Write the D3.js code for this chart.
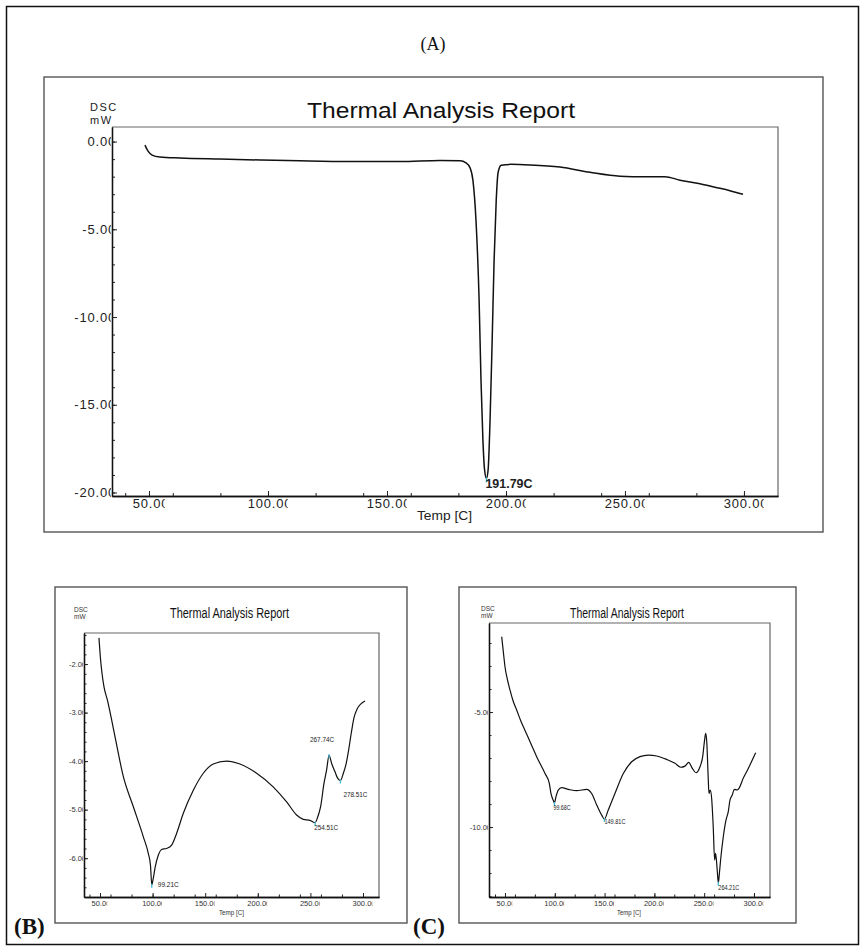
<!DOCTYPE html>
<html><head><meta charset="utf-8">
<script src="https://cdn.jsdelivr.net/npm/d3@7"></script>
<style>body{margin:0;background:#fff} svg{display:block}</style>
</head><body>
<svg id="c" width="865" height="951"></svg>
<script>
// ---------------- DATA ----------------
const xMajorTicks = [50, 100, 150, 200, 250, 300];
const xMinorTicks = [40, 60, 80, 100, 120, 140, 160, 180, 200, 220, 240, 260, 280, 300];
const xTickLabels = ["50.00", "100.00", "150.00", "200.00", "250.00", "300.00"];

// Panel A
const tempA = [48.3, 49.6, 51.3, 54.6, 63, 79.8, 96.6, 113.4, 134.5, 155.5, 172.3, 180.7, 183.2, 184.9, 186.1, 187.4, 188.7, 189.5, 190.3, 191.0, 191.79, 192.5, 193.3, 194.2, 195.0, 195.9, 196.7, 198.0, 202.1, 210, 222.7, 235.3, 247.9, 258.4, 266.8, 273.1, 281.5, 287.8, 294.1, 299.6];
const dscA  = [-0.2, -0.55, -0.77, -0.88, -0.94, -1.0, -1.05, -1.1, -1.14, -1.14, -1.08, -1.1, -1.22, -1.5, -2.2, -4.5, -9.0, -13.6, -17.0, -18.7, -19.2, -18.7, -15.9, -11.3, -6.8, -3.35, -1.75, -1.35, -1.3, -1.33, -1.45, -1.75, -1.97, -2.0, -2.0, -2.2, -2.4, -2.6, -2.8, -3.0];
const yMajorA = [0, -5, -10, -15, -20];
const yLabelsA = ["0.00", "-5.00", "-10.00", "-15.00", "-20.00"];
const peakTempA = [191.79];
const peakValA = [-19.2];
const peakLabelA = ["191.79C"];

// Panel B
const tempB = [49.0, 50.3, 51.9, 53.8, 57.0, 60.5, 64.3, 72.2, 81.7, 91.2, 95.9, 98.0, 99.21, 100.6, 102.3, 105.4, 108.6, 113.3, 118.1, 122.8, 129.1, 138.7, 148.2, 157.7, 170.3, 183.0, 198.9, 214.6, 227.4, 236.9, 243.2, 249.6, 254.51, 256.5, 259.7, 262.9, 265.4, 267.74, 270.2, 273.4, 275.6, 278.51, 281.3, 284.0, 286.5, 289.0, 291.5, 294.5, 298.0, 301.9];
const dscB  = [-1.46, -1.85, -2.19, -2.47, -2.74, -3.09, -3.50, -4.32, -4.94, -5.56, -5.90, -6.15, -6.55, -6.42, -6.20, -5.94, -5.82, -5.80, -5.73, -5.49, -5.08, -4.60, -4.25, -4.06, -4.00, -4.06, -4.25, -4.53, -4.84, -5.11, -5.20, -5.22, -5.27, -5.18, -4.94, -4.46, -4.18, -3.88, -4.05, -4.22, -4.34, -4.40, -4.25, -4.05, -3.75, -3.40, -3.10, -2.92, -2.82, -2.76];
const yMajorB = [-2, -3, -4, -5, -6];
const yLabelsB = ["-2.00", "-3.00", "-4.00", "-5.00", "-6.00"];
const peakTempB = [99.21, 254.51, 278.51, 267.74];
const peakValB = [-6.55, -5.27, -4.40, -3.88];
const peakLabelB = ["99.21C", "254.51C", "278.51C", "267.74C"];

// Panel C
const tempC = [46.7, 48.5, 50, 52.5, 55, 58, 61.7, 66, 70.1, 76.8, 81.8, 90.2, 94.5, 96.2, 98.6, 99.68, 101.2, 103.5, 106.9, 113.6, 122, 132, 137, 142.1, 147.1, 149.81, 153.7, 160.4, 168.8, 177.2, 185.5, 193.9, 202.3, 212.3, 220.7, 226.4, 230.7, 234.5, 238.1, 241.8, 245.8, 248.5, 250.2, 251.5, 252.6, 254.0, 254.8, 256.1, 257.5, 259.1, 260.5, 261.5, 263.1, 264.21, 265.3, 266.5, 269.2, 271.9, 274.2, 275.9, 278.2, 280.2, 283.2, 284.9, 289.2, 294.3, 301.7];
const dscC  = [-1.73, -2.45, -3.03, -3.6, -4.04, -4.5, -4.91, -5.4, -5.8, -6.45, -6.94, -7.67, -8.10, -8.55, -8.85, -8.95, -8.68, -8.39, -8.29, -8.36, -8.42, -8.36, -8.54, -9.04, -9.48, -9.65, -9.26, -8.54, -7.67, -7.16, -6.94, -6.87, -6.91, -7.06, -7.23, -7.40, -7.35, -7.19, -7.45, -7.64, -7.38, -6.94, -6.3, -5.93, -6.3, -7.8, -8.54, -8.39, -8.75, -9.99, -11.43, -11.14, -11.87, -12.42, -12.0, -11.43, -10.42, -9.7, -9.33, -8.83, -8.61, -8.36, -8.39, -8.32, -7.88, -7.45, -6.77];
const yMajorC = [-5, -10];
const yLabelsC = ["-5.00", "-10.00"];
const peakTempC = [99.68, 149.81, 264.21];
const peakValC = [-8.95, -9.65, -12.42];
const peakLabelC = ["99.68C", "149.81C", "264.21C"];

const chartTitle = "Thermal Analysis Report";
const yUnitTop = "DSC", yUnitBottom = "mW", xTitle = "Temp [C]";

// ---------------- DRAW ----------------
const svg = d3.select("#c");
let clipId = 0;

svg.append("rect").attr("x", 6.5).attr("y", 6.5).attr("width", 852).attr("height", 938)
  .attr("fill", "none").attr("stroke", "#111").attr("stroke-width", 1.5);

function drawPanel(cfg) {
  const g = svg.append("g");
  const [bx0, by0, bx1, by1] = cfg.box;
  const [px0, py0, px1, py1] = cfg.plot;
  g.append("rect").attr("x", bx0).attr("y", by0).attr("width", bx1 - bx0).attr("height", by1 - by0)
    .attr("fill", "none").attr("stroke", "#555").attr("stroke-width", 1.4);

  const x = d3.scaleLinear().domain(cfg.xDom).range([px0, px1]);
  const y = d3.scaleLinear().domain(cfg.yDom).range([py0, py1]);

  // frame top & right
  g.append("path").attr("d", `M${px0},${py0}H${px1}V${py1}`).attr("fill", "none")
    .attr("stroke", "#666").attr("stroke-width", 1.2);

  const styleAxis = sel => { sel.selectAll("path.domain").attr("stroke", "#111").attr("stroke-width", 1.3);
    sel.selectAll(".tick line").attr("stroke", "#222"); sel.selectAll("text").remove(); };

  g.append("g").attr("transform", `translate(0,${py1})`)
    .call(d3.axisBottom(x).tickValues(xMinorTicks.filter(t => t > cfg.xDom[0] && t < cfg.xDom[1])).tickSize(-cfg.minorLen).tickSizeOuter(0).tickFormat(""))
    .call(styleAxis);
  g.append("g").attr("transform", `translate(0,${py1})`)
    .call(d3.axisBottom(x).tickValues(xMajorTicks).tickSize(-cfg.majorLen).tickSizeOuter(0).tickFormat(""))
    .call(styleAxis);
  g.append("g").attr("transform", `translate(${px0},0)`)
    .call(d3.axisLeft(y).tickValues(cfg.yMinor).tickSize(-cfg.minorLen).tickSizeOuter(0).tickFormat(""))
    .call(styleAxis);
  g.append("g").attr("transform", `translate(${px0},0)`)
    .call(d3.axisLeft(y).tickValues(cfg.yMajor).tickSize(-cfg.majorLen).tickSizeOuter(0).tickFormat(""))
    .call(styleAxis);

  const fs = cfg.tickFont;
  // y tick labels (clipped at axis)
  const cidY = "clip" + (clipId++);
  svg.append("clipPath").attr("id", cidY).append("rect")
    .attr("x", bx0).attr("y", by0).attr("width", px0 - bx0 - cfg.yClip).attr("height", by1 - by0);
  g.append("g").attr("clip-path", `url(#${cidY})`).selectAll("text").data(cfg.yMajor).join("text")
    .attr("x", px0 + cfg.yLabelDx).attr("y", d => y(d)).attr("dy", "0.35em")
    .attr("text-anchor", "end").attr("font-size", fs).attr("letter-spacing", cfg.tickSpacing)
    .attr("font-family", cfg.font).attr("fill", cfg.tickColor).text((d, i) => cfg.yLabels[i]);

  // x tick labels (last glyph partly clipped)
  xMajorTicks.forEach((t, i) => {
    const txt = g.append("text").attr("x", x(t) + cfg.xLabelDx).attr("y", py1 + cfg.xLabelDy)
      .attr("text-anchor", "middle").attr("font-size", fs).attr("letter-spacing", cfg.tickSpacing)
      .attr("font-family", cfg.font).attr("fill", cfg.tickColor).text(xTickLabels[i]);
    const bb = txt.node().getBBox();
    const id = "clip" + (clipId++);
    svg.append("clipPath").attr("id", id).append("rect")
      .attr("x", bb.x - 1).attr("y", bb.y - 2).attr("width", bb.width - fs * 0.28).attr("height", bb.height + 4);
    txt.attr("clip-path", `url(#${id})`);
  });

  // titles
  g.append("text").attr("x", cfg.titleX).attr("y", cfg.titleY).attr("font-size", cfg.titleFont)
    .attr("font-family", cfg.titleFamily).attr("fill", "#111")
    .attr("textLength", cfg.titleLen).attr("lengthAdjust", "spacingAndGlyphs").text(chartTitle);
  g.append("text").attr("x", cfg.unitX).attr("y", cfg.unitY).attr("font-size", cfg.unitFont)
    .attr("letter-spacing", cfg.unitSpacing).attr("font-family", cfg.font).attr("fill", cfg.tickColor).text(yUnitTop);
  g.append("text").attr("x", cfg.unitX).attr("y", cfg.unitY + cfg.unitFont * 1.15).attr("font-size", cfg.unitFont)
    .attr("letter-spacing", cfg.unitSpacing).attr("font-family", cfg.font).attr("fill", cfg.tickColor).text(yUnitBottom);
  g.append("text").attr("x", cfg.xTitleX).attr("y", cfg.xTitleY).attr("font-size", cfg.xTitleFont)
    .attr("font-family", cfg.font).attr("fill", cfg.tickColor)
    .attr("textLength", cfg.xTitleLen).attr("lengthAdjust", "spacingAndGlyphs").text(xTitle);

  // curve
  g.append("path").datum(d3.zip(cfg.T, cfg.V))
    .attr("d", d3.line().x(d => x(d[0])).y(d => y(d[1])).curve(d3.curveMonotoneX))
    .attr("fill", "none").attr("stroke", "#111").attr("stroke-width", cfg.lineW).attr("stroke-linejoin", "round");

  // peak markers + labels
  cfg.pT.forEach((t, i) => {
    const cx = x(t), cy = y(cfg.pV[i]);
    g.append("line").attr("x1", cx).attr("x2", cx).attr("y1", cy - 1).attr("y2", cy + cfg.markLen)
      .attr("stroke", "#3fb6d6").attr("stroke-width", 1.3);
    const off = cfg.labelOff[i];
    g.append("text").attr("x", cx + off[0]).attr("y", cy + off[1]).attr("dy", "0.35em")
      .attr("font-size", cfg.annFont).attr("font-weight", cfg.annWeight).attr("font-family", cfg.font)
      .attr("fill", "#222").attr("textLength", cfg.annLen[i]).attr("lengthAdjust", "spacingAndGlyphs")
      .text(cfg.pL[i]);
  });
}

const sans = "'Liberation Sans', Arial, sans-serif";

drawPanel({
  box: [44, 77, 823, 532], plot: [112, 127, 778, 496],
  xDom: [34.45, 314.3], yDom: [0.83, -20.2],
  yMajor: yMajorA, yMinor: d3.range(0, -20.5, -1), yLabels: yLabelsA,
  majorLen: 5, minorLen: 3, tickFont: 13, tickSpacing: 0.8, tickColor: "#222", font: sans,
  yLabelDx: 4, yClip: 1, xLabelDx: 2, xLabelDy: 12,
  titleX: 307, titleY: 118, titleFont: 22, titleLen: 268, titleFamily: sans,
  unitX: 90, unitY: 111, unitFont: 11, unitSpacing: 1.5,
  xTitleX: 417, xTitleY: 520, xTitleFont: 13, xTitleLen: 55,
  T: tempA, V: dscA, lineW: 1.5,
  pT: peakTempA, pV: peakValA, pL: peakLabelA, labelOff: [[-1, 5]], annLen: [47],
  annFont: 13, annWeight: "bold", markLen: 4
});

drawPanel({
  box: [55, 587, 407, 923], plot: [84, 633, 379, 897],
  xDom: [34.79, 315.2], yDom: [-1.36, -6.80],
  yMajor: yMajorB, yMinor: d3.range(-1.4, -6.85, -0.2), yLabels: yLabelsB,
  majorLen: 4, minorLen: 2.5, tickFont: 7.5, tickSpacing: 0, tickColor: "#333", font: sans,
  yLabelDx: 2, yClip: 1, xLabelDx: 1, xLabelDy: 9,
  titleX: 170, titleY: 618, titleFont: 14, titleLen: 119, titleFamily: sans,
  unitX: 74, unitY: 612, unitFont: 6.5, unitSpacing: 0,
  xTitleX: 219, xTitleY: 915, xTitleFont: 7.5, xTitleLen: 25,
  T: tempB, V: dscB, lineW: 1.2,
  pT: peakTempB, pV: peakValB, pL: peakLabelB,
  labelOff: [[6, 0], [-1, 5], [3, 14], [-19, -16]], annLen: [21, 24, 24, 24],
  annFont: 7.5, annWeight: "normal", markLen: 3
});

drawPanel({
  box: [459, 587, 796, 923], plot: [489, 623, 770, 897],
  xDom: [33.94, 316.1], yDom: [-1.13, -13.04],
  yMajor: yMajorC, yMinor: d3.range(-2, -13.5, -1), yLabels: yLabelsC,
  majorLen: 4, minorLen: 2.5, tickFont: 7.5, tickSpacing: 0, tickColor: "#333", font: sans,
  yLabelDx: 2, yClip: 1, xLabelDx: 1, xLabelDy: 9,
  titleX: 570, titleY: 618, titleFont: 14, titleLen: 114, titleFamily: sans,
  unitX: 481, unitY: 611, unitFont: 6.5, unitSpacing: 0,
  xTitleX: 617, xTitleY: 915, xTitleFont: 7.5, xTitleLen: 24,
  T: tempC, V: dscC, lineW: 1.2,
  pT: peakTempC, pV: peakValC, pL: peakLabelC,
  labelOff: [[-1, 4], [0, 2], [0, 5]], annLen: [17, 21, 21],
  annFont: 7.5, annWeight: "normal", markLen: 3
});

// panel letters
const serif = "'Liberation Serif', 'Times New Roman', serif";
svg.append("text").attr("x", 433).attr("y", 50).attr("text-anchor", "middle")
  .attr("font-size", 18).attr("font-family", serif).attr("fill", "#111").text("(A)");
svg.append("text").attr("x", 14).attr("y", 934)
  .attr("font-size", 23).attr("font-weight", "bold").attr("font-family", serif).attr("fill", "#111").text("(B)");
svg.append("text").attr("x", 413).attr("y", 934)
  .attr("font-size", 23).attr("font-weight", "bold").attr("font-family", serif).attr("fill", "#111").text("(C)");
</script>
</body></html>
